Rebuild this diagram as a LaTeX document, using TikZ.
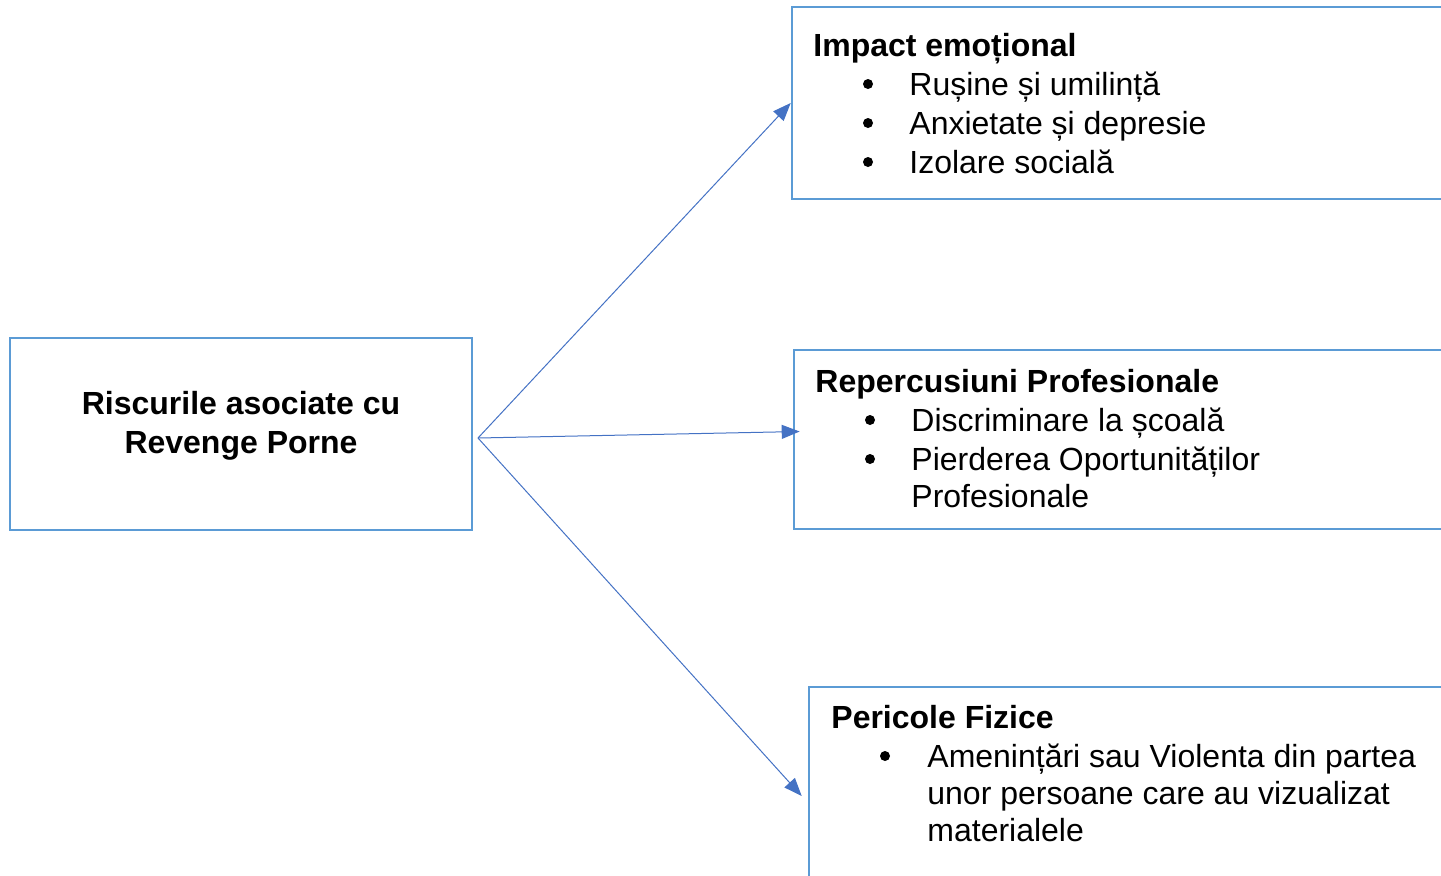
\documentclass[tikz,border=0pt]{standalone}
\usepackage{fontspec}
\setmainfont{Liberation Sans}
\usetikzlibrary{arrows.meta}
\definecolor{ramaAlbastra}{HTML}{5B9BD5}
\definecolor{albastruSageata}{HTML}{4472C4}
\tikzset{
  cutie/.style={draw=ramaAlbastra,line width=1.3pt,inner sep=0pt},
  titlu/.style={anchor=base west,inner sep=0pt,font=\fontsize{16}{19.5}\selectfont\bfseries},
  punct/.style={anchor=base west,inner sep=0pt,font=\fontsize{16}{19.5}\selectfont},
  glont/.style={circle,fill=black,inner sep=0pt,minimum size=5pt},
  sageata/.style={draw=albastruSageata,line width=0.5pt,-{Triangle[length=9pt,width=7pt]}}
}
\begin{document}
\begin{tikzpicture}[x=0.5pt,y=-0.5pt]
	\useasboundingbox (0,0) rectangle (1441,875);
	\clip (0,0) rectangle (1441,875);
	% cutiile
	\node[cutie,minimum width=231pt,minimum height=96pt] (risc) at (241,434) {};
	\node[inner sep=0pt,align=center,font=\fontsize{16}{19.5}\selectfont\bfseries]
		(riscT) at ([yshift=4pt]risc.center) {Riscurile asociate cu\\Revenge Porne};
	\node[cutie,minimum width=334pt,minimum height=96pt] (emo) at (1126,103) {};
	\node[cutie,minimum width=333pt,minimum height=89.5pt] (prof) at (1127,439.5) {};
	\node[cutie,minimum width=325.5pt,minimum height=109pt] (fiz) at (1134.5,796) {};
	% sagetile
	\coordinate (src) at (478,438);
	\draw[sageata] (src)--(emo.west);
	\draw[sageata] (src)--([xshift=3.5pt,yshift=4pt]prof.west);
	\draw[sageata] (src)--([xshift=-3pt]fiz.west);
	% impact emotional
	\node[titlu] (emoT) at (813,56) {Impact emoțional};
	\foreach \t [count=\i] in {Rușine și umilință,Anxietate și depresie,Izolare socială}{
		\node[glont] (emoG\i) at (868,{56+39*\i-11}) {};
		\node[punct] (emoP\i) at (909,{56+39*\i}) {\t};
	}
	% repercusiuni profesionale
	\node[titlu] (profT) at (815,392) {Repercusiuni Profesionale};
	\foreach \t [count=\i] in {Discriminare la școală,Pierderea Oportunităților}{
		\node[glont] (profG\i) at (870,{392+39*\i-11}) {};
		\node[punct] (profP\i) at (911,{392+39*\i}) {\t};
	}
	\node[punct] (profP3) at (911,507) {Profesionale};
	% pericole fizice
	\node[titlu] (fizT) at (831,728) {Pericole Fizice};
	\node[glont] (fizG1) at (885,756) {};
	\node[punct] (fizP1) at (927,767) {Amenințări sau Violenta din partea};
	\node[punct] (fizP2) at (927,804) {unor persoane care au vizualizat};
	\node[punct] (fizP3) at (927,841) {materialele};
\end{tikzpicture}
\end{document}
